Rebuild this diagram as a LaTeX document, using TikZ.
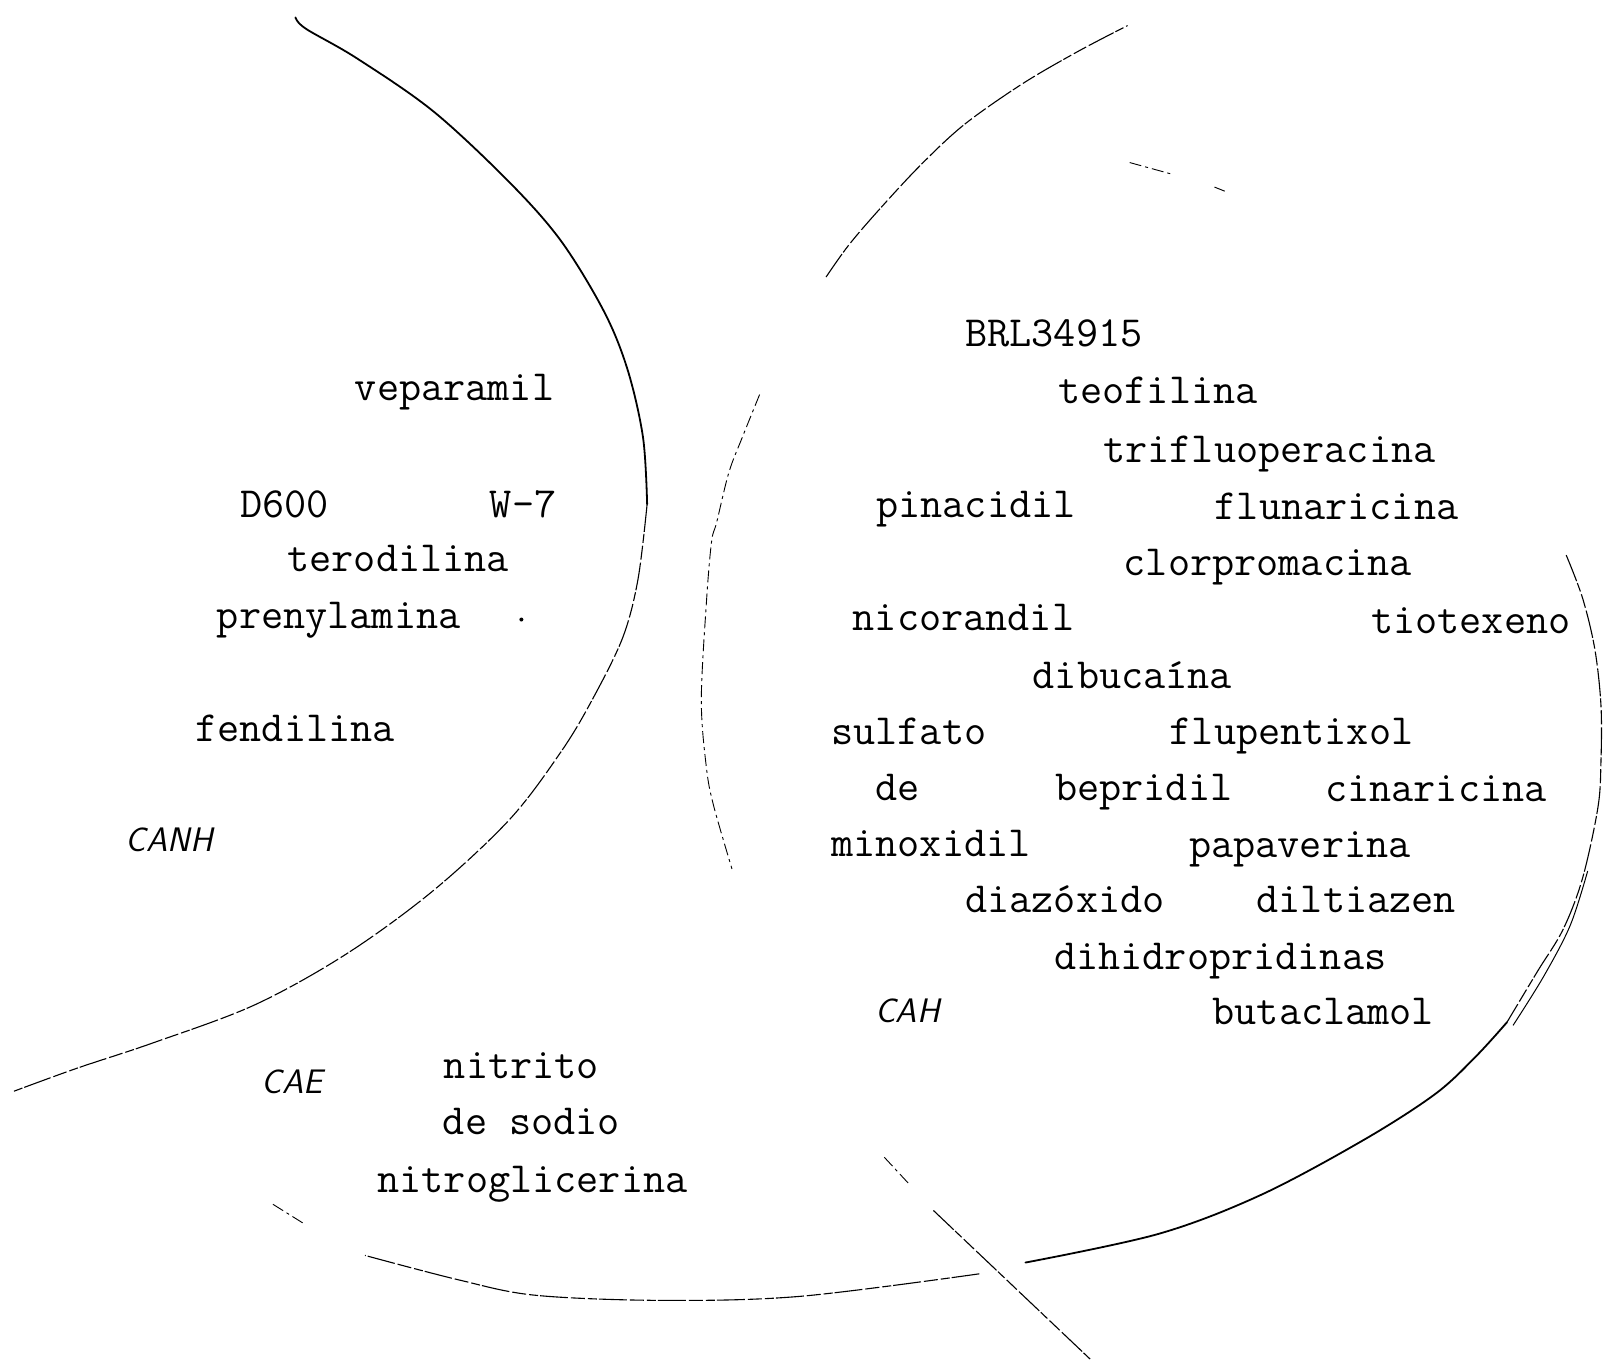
\documentclass[tikz,border=0pt]{standalone}
\begin{document}
\begin{tikzpicture}[x=1.0223pt,y=-1.0223pt,
  lbl/.style={font=\fontsize{43}{50}\selectfont\ttfamily, anchor=base west, inner sep=0pt},
  tag/.style={font=\fontsize{34}{40}\selectfont\sffamily\itshape, anchor=base west, inner sep=0pt},
  solidline/.style={line width=1.8pt, line cap=round},
  brokenline/.style={line width=1.1pt, dash pattern=on 28pt off 2pt on 9pt off 3pt on 14pt off 3pt},
  fineline/.style={line width=0.9pt, dash pattern=on 12pt off 4pt on 3pt off 4pt},
  ]
\useasboundingbox (0,0) rectangle (1568,1334);

% left region boundary (CANH)
\draw[solidline] plot[smooth,tension=0.55] coordinates {(289,17) (299,28) (349,57) (424,109) (499,179) (549,236) (591,305) (614,362) (629,428) (633,493)};
\draw[brokenline] plot[smooth,tension=0.55] coordinates {(633,493) (624,567) (609,624) (579,685) (549,735) (499,801) (424,871) (339,933) (249,983) (150,1020) (75,1045) (12,1068)};

% right region (CAH) top arc
\draw[brokenline] plot[smooth,tension=0.55] coordinates {(808,271) (830,240) (860,205) (900,162) (943,122) (1000,82) (1055,50) (1103,25)};
\draw[fineline] (1105,159) -- (1145,170);
\draw[fineline] (1188,183) -- (1198,187);

% inner left arc
\draw[fineline] plot[smooth,tension=0.55] coordinates {(743,386) (726,428) (713,462) (701,511) (696,530) (691,589) (686,685) (691,751) (698,788) (716,850)};

% right and bottom arc
\draw[brokenline] plot[smooth,tension=0.55] coordinates {(1532,543) (1548,585) (1560,635) (1566,690) (1566,745) (1563,790) (1548,859) (1529,909) (1504,950) (1474,1000)};
\draw[solidline] plot[smooth,tension=0.55] coordinates {(1474,1000) (1444,1033) (1404,1070) (1334,1115) (1233,1169) (1133,1207) (1003,1235)};
\draw[line width=1pt] plot[smooth,tension=0.55] coordinates {(1553,852) (1536,905) (1510,955) (1480,1003)};
\draw[brokenline] plot[smooth,tension=0.55] coordinates {(958,1246) (783,1268) (649,1272) (524,1267) (449,1252) (357,1228)};
\draw[fineline] (267,1178) -- (299,1198);

% diagonal
\draw[fineline] (865,1132) -- (890,1159);
\draw[brokenline] (913,1184) -- (1068,1331);

% stray dot
\fill (510,606) circle (2pt);

% left labels
\node[lbl] (veparamil) at (347,392) {veparamil};
\node[lbl] (d600) at (235,506) {D600};
\node[lbl] (w7) at (479,506) {W-7};
\node[lbl] (terodilina) at (281,559) {terodilina};
\node[lbl] (prenylamina) at (212,615) {prenylamina};
\node[lbl] (fendilina) at (191,725) {fendilina};
\node[tag] (canh) at (123,833) {CANH};
\node[tag] (cae) at (256,1070) {CAE};
\node[lbl] (nitrito) at (434,1055) {nitrito};
\node[lbl] (desodio) at (433,1110) {de sodio};
\node[lbl] (nitroglicerina) at (369,1166) {nitroglicerina};

% right labels
\node[lbl] (brl) at (944,339) {BRL34915};
\node[lbl] (teofilina) at (1035,395) {teofilina};
\node[lbl] (trifluoperacina) at (1079,452) {trifluoperacina};
\node[lbl] (pinacidil) at (857,506) {pinacidil};
\node[lbl] (flunaricina) at (1188,508) {flunaricina};
\node[lbl] (clorpromacina) at (1099,563) {clorpromacina};
\node[lbl] (nicorandil) at (834,617) {nicorandil};
\node[lbl] (tiotexeno) at (1341,620) {tiotexeno};
\node[lbl] (dibucaina) at (1010,673) {dibucaína};
\node[lbl] (sulfato) at (813,728) {sulfato};
\node[lbl] (flupentixol) at (1144,728) {flupentixol};
\node[lbl] (de) at (856,783) {de};
\node[lbl] (bepridil) at (1032,783) {bepridil};
\node[lbl] (cinaricina) at (1296,784) {cinaricina};
\node[lbl] (minoxidil) at (813,838) {minoxidil};
\node[lbl] (papaverina) at (1163,839) {papaverina};
\node[lbl] (diazoxido) at (944,893) {diazóxido};
\node[lbl] (diltiazen) at (1229,893) {diltiazen};
\node[lbl] (dihidropridinas) at (1031,948) {dihidropridinas};
\node[tag] (cah) at (856,1000) {CAH};
\node[lbl] (butaclamol) at (1186,1002) {butaclamol};
\end{tikzpicture}
\end{document}
